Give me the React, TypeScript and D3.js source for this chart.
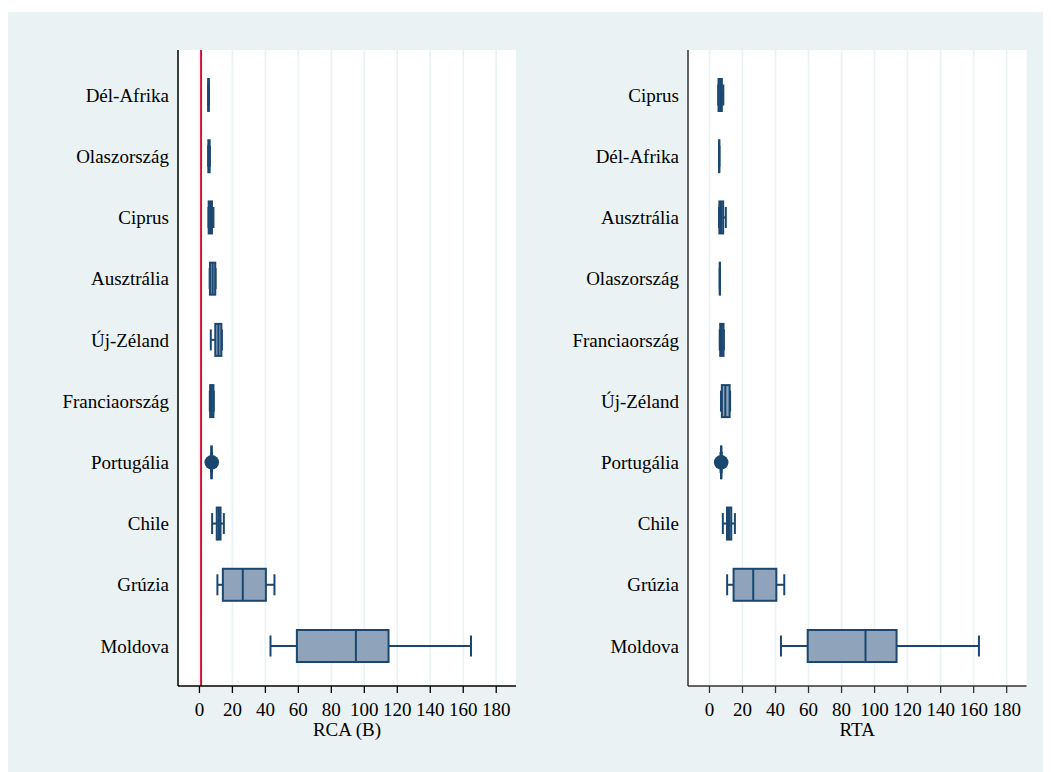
import React from "react";
import { scaleLinear, scalePoint } from "d3";

// left panel: RCA (B)
const rcaCats = ["Dél-Afrika", "Olaszország", "Ciprus", "Ausztrália", "Új-Zéland", "Franciaország", "Portugália", "Chile", "Grúzia", "Moldova"];
const rcaLo = [5.3, 5.3, 5.5, 6.2, 6.9, 6.3, 7.1, 7.7, 10.9, 43.1];
const rcaQ1 = [5.3, 5.4, 5.6, 6.4, 9.6, 6.5, 7.2, 10.5, 14.2, 59.1];
const rcaMed = [5.5, 5.8, 6.5, 8.0, 11.5, 7.5, 7.3, 11.8, 26.3, 94.9];
const rcaQ3 = [5.7, 6.2, 7.6, 9.6, 13.3, 8.5, 7.5, 12.8, 40.3, 114.7];
const rcaHi = [5.8, 6.3, 8.5, 9.8, 13.6, 8.7, 7.6, 14.8, 45.5, 164.7];
const rcaOut = [[], [], [], [], [], [], [7.5], [], [], []];

// right panel: RTA
const rtaCats = ["Ciprus", "Dél-Afrika", "Ausztrália", "Olaszország", "Franciaország", "Új-Zéland", "Portugália", "Chile", "Grúzia", "Moldova"];
const rtaLo = [5.3, 5.8, 5.8, 6.2, 6.2, 7.0, 6.7, 8.1, 10.7, 43.3];
const rtaQ1 = [5.5, 5.85, 6.0, 6.25, 6.5, 7.5, 7.0, 10.6, 14.6, 59.5];
const rtaMed = [6.5, 5.9, 7.0, 6.3, 7.5, 9.6, 7.1, 11.8, 26.5, 94.5];
const rtaQ3 = [7.5, 5.95, 8.3, 6.35, 8.5, 12.2, 7.2, 13.2, 40.5, 113.3];
const rtaHi = [8.4, 6.0, 9.9, 6.4, 8.7, 12.5, 7.4, 15.4, 45.3, 163.2];
const rtaOut = [[], [], [], [], [], [], [7.1], [], [], []];

const ticks = [0, 20, 40, 60, 80, 100, 120, 140, 160, 180];

const BG = "#eaf2f3";
const NAVY = "#1a476f";
const FILL = "#8fa4bb";
const FONT = "Liberation Serif, Times New Roman, serif";

const top = 50;
const bottom = 686;

function Panel({ x0, x1, cats, lo, q1, med, q3, hi, out, title, refLine, axisColor }) {
  const x = scaleLinear().domain([-13, 192]).range([x0, x1]);
  const y = scalePoint().domain(cats).range([95, 646]);
  const boxH = 32;
  const capH = 21;
  return (
    <g>
      <rect x={x0} y={top} width={x1 - x0} height={bottom - top} fill="#fff" />
      {ticks.map((t) => (
        <line key={"g" + t} x1={x(t)} x2={x(t)} y1={top} y2={bottom} stroke={BG} strokeWidth={1.6} />
      ))}
      {refLine !== undefined && (
        <line x1={x(refLine)} x2={x(refLine)} y1={top} y2={bottom} stroke="#cf1237" strokeWidth={2} />
      )}
      {cats.map((c, i) => {
        const cy = y(c);
        return (
          <g key={c}>
            <line x1={x(lo[i])} x2={x(q1[i])} y1={cy} y2={cy} stroke={NAVY} strokeWidth={2} />
            <line x1={x(q3[i])} x2={x(hi[i])} y1={cy} y2={cy} stroke={NAVY} strokeWidth={2} />
            <line x1={x(lo[i])} x2={x(lo[i])} y1={cy - capH / 2} y2={cy + capH / 2} stroke={NAVY} strokeWidth={2} />
            <line x1={x(hi[i])} x2={x(hi[i])} y1={cy - capH / 2} y2={cy + capH / 2} stroke={NAVY} strokeWidth={2} />
            <rect
              x={x(q1[i])}
              y={cy - boxH / 2}
              width={Math.max(0, x(q3[i]) - x(q1[i]))}
              height={boxH}
              fill={FILL}
              stroke={NAVY}
              strokeWidth={2}
            />
            <line x1={x(med[i])} x2={x(med[i])} y1={cy - boxH / 2} y2={cy + boxH / 2} stroke={NAVY} strokeWidth={2} />
            {out[i].map((v, j) => (
              <circle key={j} cx={x(v)} cy={cy} r={7.3} fill={NAVY} />
            ))}
            <text x={x0 - 9} y={cy} dy="0.35em" textAnchor="end" fontSize={19} style={{ fontFamily: FONT }} fill="#000">
              {c}
            </text>
          </g>
        );
      })}
      <line x1={x0} x2={x0} y1={top} y2={bottom} stroke={axisColor} strokeWidth={1.5} />
      <line x1={x0} x2={x1} y1={bottom} y2={bottom} stroke={axisColor} strokeWidth={1.5} />
      {ticks.map((t) => (
        <g key={"t" + t}>
          <line x1={x(t)} x2={x(t)} y1={bottom} y2={bottom + 7} stroke={axisColor} strokeWidth={1.3} />
          <text x={x(t)} y={716} textAnchor="middle" fontSize={19} style={{ fontFamily: FONT }} fill="#000">
            {t}
          </text>
        </g>
      ))}
      <text x={(x0 + x1) / 2} y={736} textAnchor="middle" fontSize={19} style={{ fontFamily: FONT }} fill="#000">
        {title}
      </text>
    </g>
  );
}

export default function App() {
  return (
    <svg
      width={1035}
      height={760}
      style={{ position: "absolute", left: 8, top: 12, display: "block" }}
    >
      <rect x={0} y={0} width={1035} height={760} fill={BG} />
      <g transform="translate(-8,-12)">
        <Panel
          x0={178}
          x1={516}
          cats={rcaCats}
          lo={rcaLo}
          q1={rcaQ1}
          med={rcaMed}
          q3={rcaQ3}
          hi={rcaHi}
          out={rcaOut}
          title="RCA (B)"
          refLine={1}
          axisColor="#000"
        />
        <Panel
          x0={688}
          x1={1026.5}
          cats={rtaCats}
          lo={rtaLo}
          q1={rtaQ1}
          med={rtaMed}
          q3={rtaQ3}
          hi={rtaHi}
          out={rtaOut}
          title="RTA"
          refLine={undefined}
          axisColor="#333"
        />
      </g>
    </svg>
  );
}
